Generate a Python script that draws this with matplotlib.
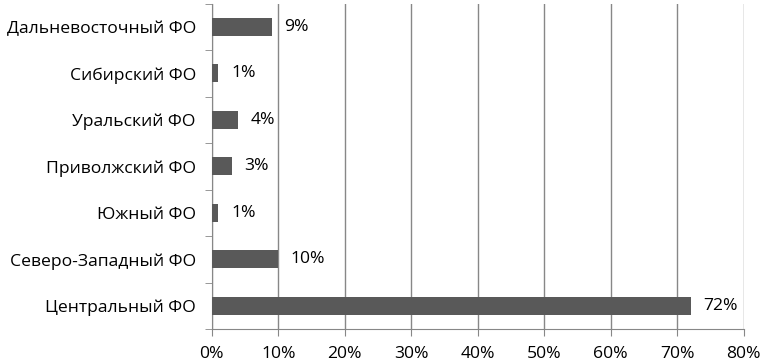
import numpy as np
import matplotlib.pyplot as plt
from matplotlib.ticker import FixedLocator, PercentFormatter

# Donnees (de bas en haut)
regions = ["Центральный ФО", "Северо-Западный ФО", "Южный ФО", "Приволжский ФО",
           "Уральский ФО", "Сибирский ФО", "Дальневосточный ФО"]
values = [72, 10, 1, 3, 4, 1, 9]
xticks = [0, 10, 20, 30, 40, 50, 60, 70, 80]

plt.rcParams['font.family'] = ['Open Sans', 'DejaVu Sans']
fs = 12.6

fig = plt.figure(figsize=(7.62, 3.64), dpi=100)
ax = fig.add_axes([0.278, 0.096, 0.698, 0.894])

y = np.arange(len(regions))
bars = ax.barh(y, values, height=0.39, color="#595959", zorder=3)
ax.bar_label(bars, labels=[f"{v}%" for v in values], padding=9, fontsize=fs)

ax.set_xlim(0, 80)
ax.set_ylim(-0.5, len(regions) - 0.5)
ax.set_xticks(xticks)
ax.xaxis.set_major_formatter(PercentFormatter(decimals=0))
ax.set_yticks(y)
ax.set_yticklabels(regions)
ax.yaxis.set_minor_locator(FixedLocator(np.arange(-0.5, len(regions), 1)))

ax.grid(axis="x", color="#878787", linewidth=1, zorder=0)
for s in ["top", "right"]:
    ax.spines[s].set_visible(False)
for s in ["left", "bottom"]:
    ax.spines[s].set_color("#878787")
ax.tick_params(axis="y", which="major", length=0, pad=11.5, labelsize=fs)
ax.tick_params(axis="y", which="minor", length=5, color="#878787")
ax.tick_params(axis="x", length=5, color="#878787", labelsize=fs, pad=7)

fig.savefig("out.png", dpi=100)
